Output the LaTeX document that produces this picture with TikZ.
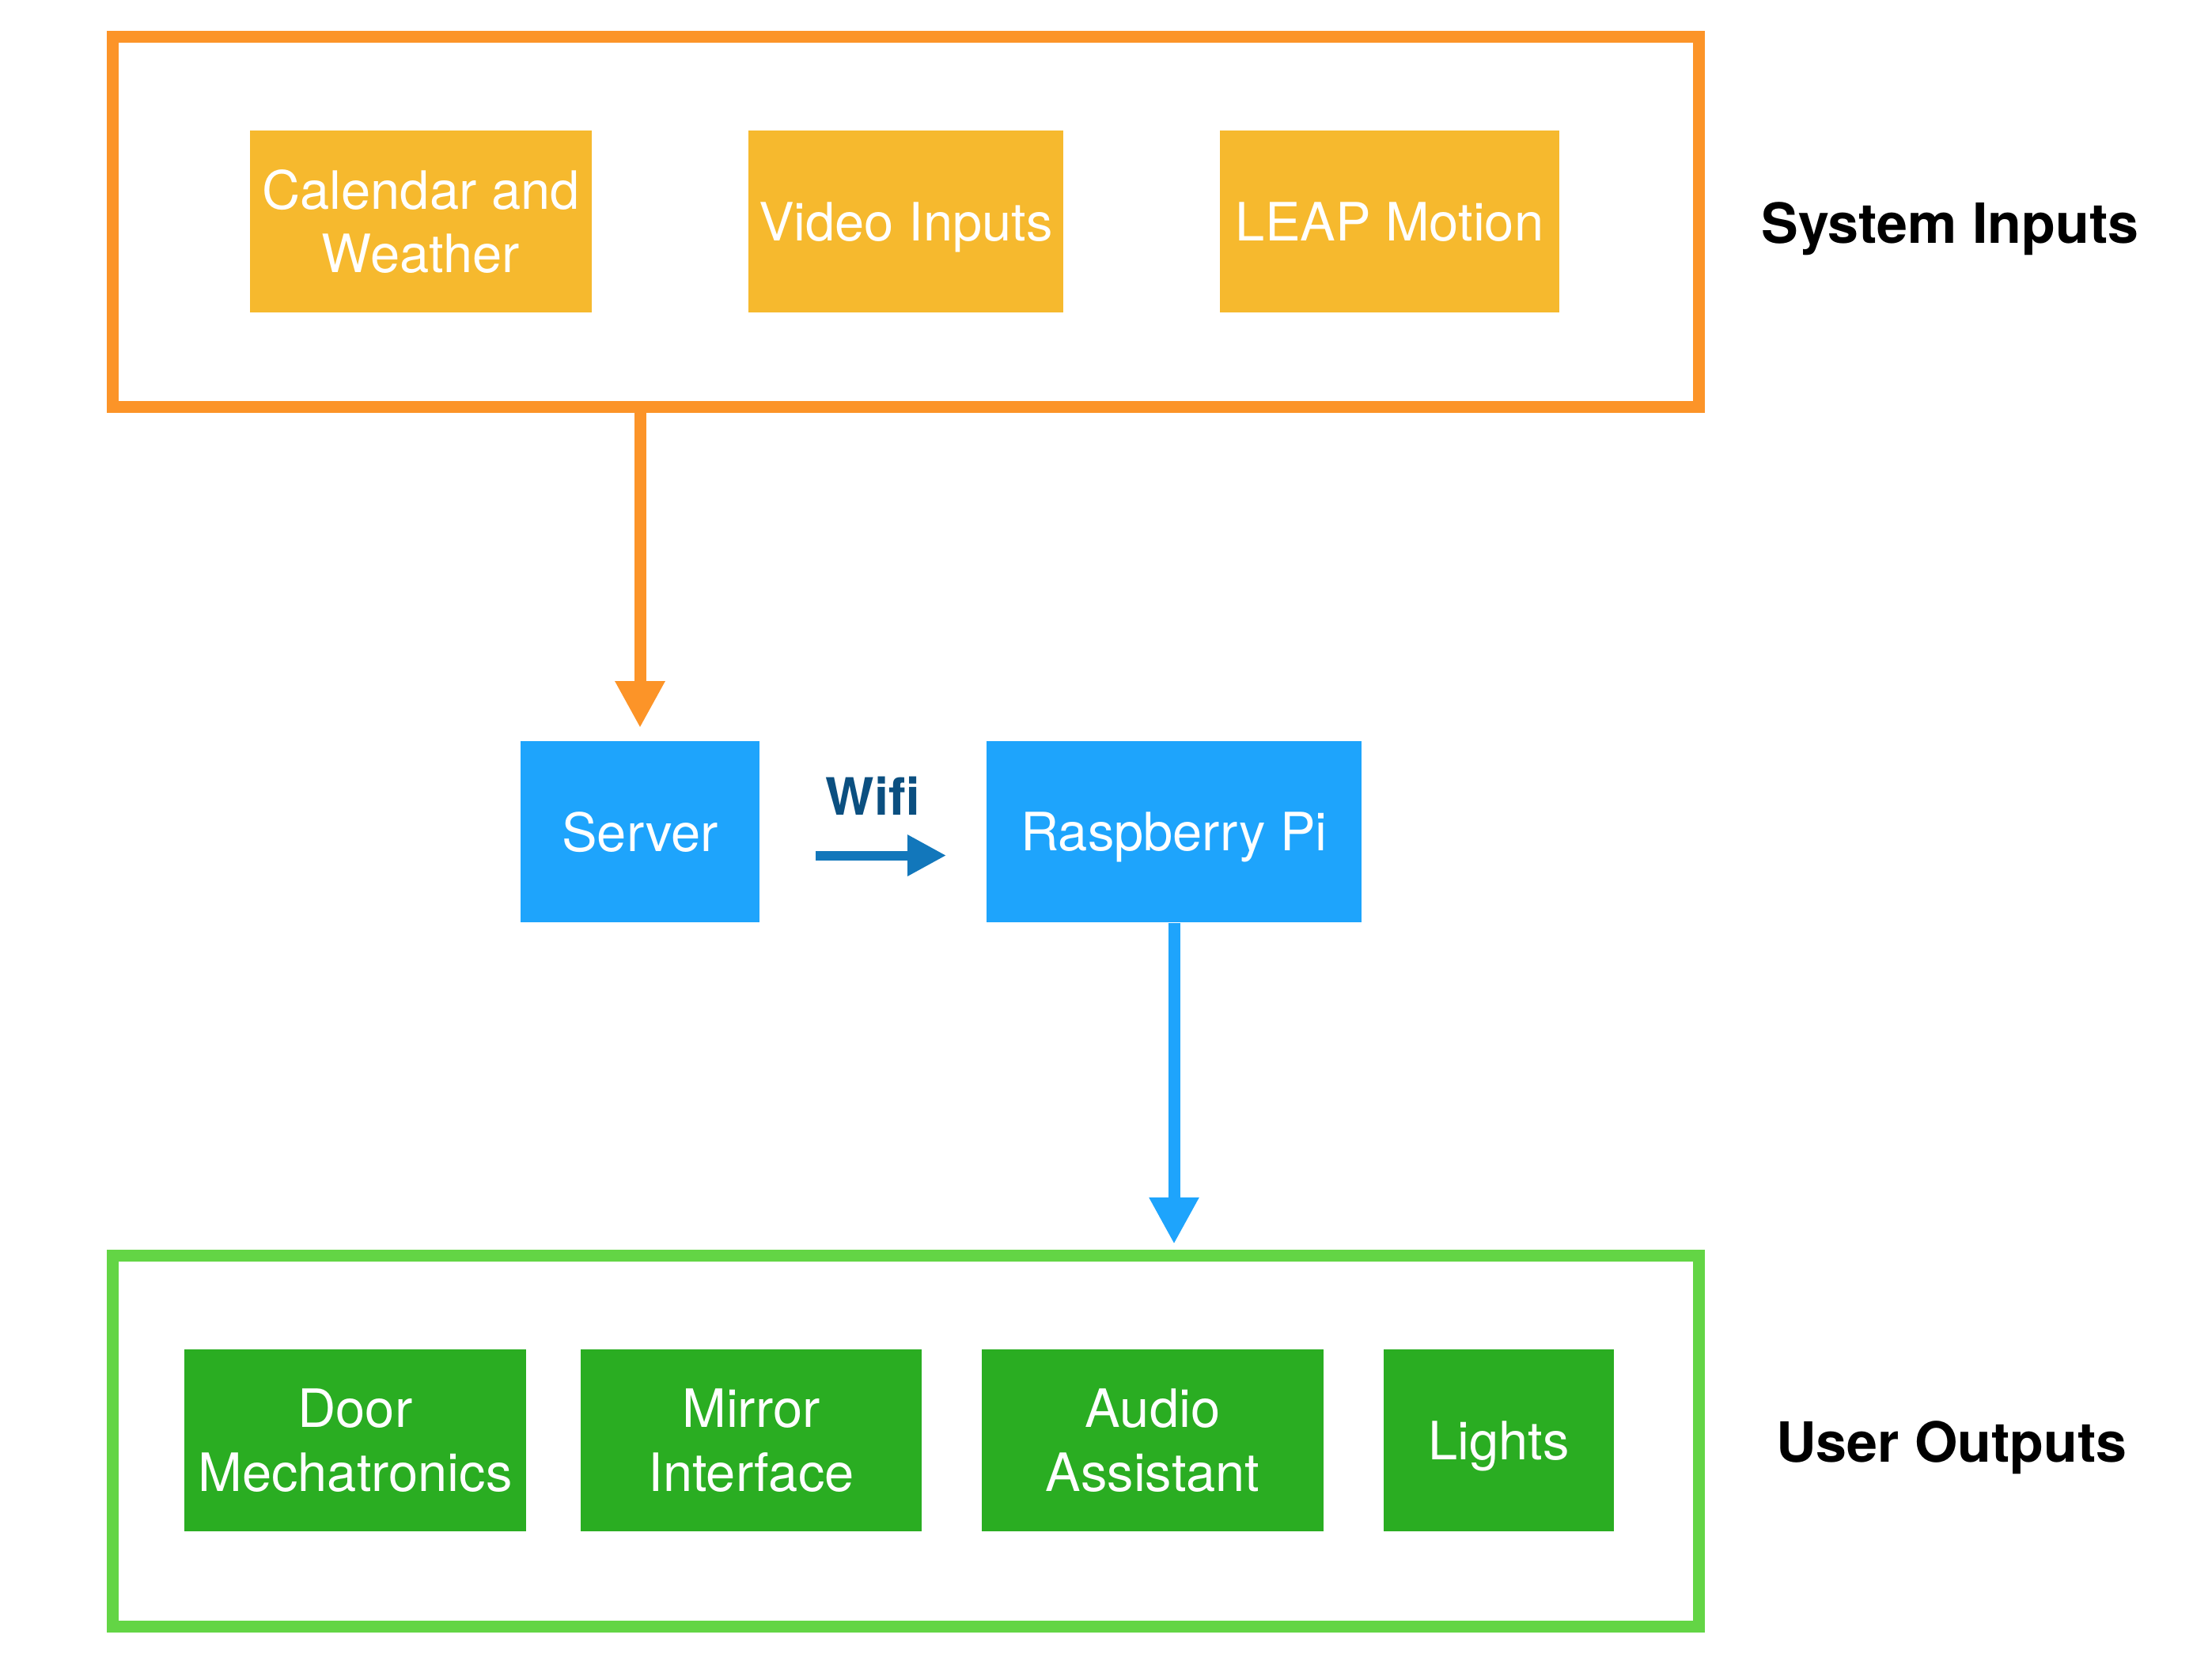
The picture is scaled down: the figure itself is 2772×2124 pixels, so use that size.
\documentclass[tikz,border=0pt]{standalone}
\usepackage{fontspec}
\setmainfont{TeX Gyre Heros}
\usetikzlibrary{arrows.meta}

\definecolor{frameorange}{RGB}{252,148,40}
\definecolor{inyellow}{RGB}{246,185,46}
\definecolor{piblue}{RGB}{30,164,252}
\definecolor{framegreen}{RGB}{99,213,69}
\definecolor{outgreen}{RGB}{42,173,34}
\definecolor{wifiblue}{RGB}{18,119,187}
\definecolor{wifitext}{RGB}{11,79,128}

\tikzset{
    block/.style={minimum height=2.29cm, inner sep=0pt, text=white, align=center,
        font=\fontsize{19}{23}\selectfont},
    onerow/.style={text depth=0pt},
    inbox/.style={block, fill=inyellow},
    pibox/.style={block, fill=piblue},
    outbox/.style={block, fill=outgreen},
    frame/.style={minimum width=20.03cm, line width=0.15cm, inner sep=0pt},
    sidelabel/.style={anchor=base, font=\fontsize{19.9}{24}\selectfont\bfseries},
    fatarrow/.style={line width=0.15cm, -{Triangle[length=0.59cm, width=0.59cm]}}
}

\begin{document}
\begin{tikzpicture}[x=0.01cm, y=-0.01cm]
    \useasboundingbox (0,0) rectangle (2772,2124);

    % frames
    \node[frame, draw=frameorange, minimum height=4.68cm] (inframe) at (1145,280.5) {};
    \node[frame, draw=framegreen, minimum height=4.69cm] (outframe) at (1145,1822) {};

    % system inputs
    \node[inbox, minimum width=4.32cm] (calendar) at (532,280) {Calendar and\\Weather};
    \node[inbox, onerow, minimum width=3.98cm] (video) at (1145,280) {Video Inputs};
    \node[inbox, onerow, minimum width=4.29cm] (leap) at (1756.5,280) {LEAP Motion};

    % middle
    \node[pibox, onerow, minimum width=3.02cm] (server) at (809,1051.5) {Server};
    \node[pibox, onerow, minimum width=4.74cm] (pi) at (1484,1051.5) {Raspberry Pi};

    % user outputs
    \node[outbox, minimum width=4.32cm] (door) at (449,1821) {Door\\Mechatronics};
    \node[outbox, minimum width=4.31cm] (mirror) at (949.5,1821) {Mirror\\Interface};
    \node[outbox, minimum width=4.32cm] (audio) at (1457,1821) {Audio\\Assistant};
    \node[outbox, onerow, minimum width=2.91cm] (lights) at (1894.5,1821) {Lights};

    \node[sidelabel] (inlabel) at (2465,307) {System Inputs};
    \node[sidelabel] (outlabel) at (2467,1848) {User Outputs};

    % connectors
    \draw[fatarrow, frameorange, shorten >=0.16cm] (inframe.south -| server.north) -- (server.north);
    \draw[fatarrow, piblue, shorten >=0.07cm] (pi.south) -- (outframe.north -| pi.south);
    \draw[line width=0.12cm, wifiblue, -{Triangle[length=0.49cm, width=0.49cm]},
        shorten <=0.7cm, shorten >=0.5cm]
        ([yshift=-0.3cm]server.east) -- node[midway, above=0.33cm, text=wifitext,
        font=\fontsize{18.5}{22}\selectfont\bfseries] (wifi) {Wifi} ([yshift=-0.3cm]pi.west);

\end{tikzpicture}
\end{document}
